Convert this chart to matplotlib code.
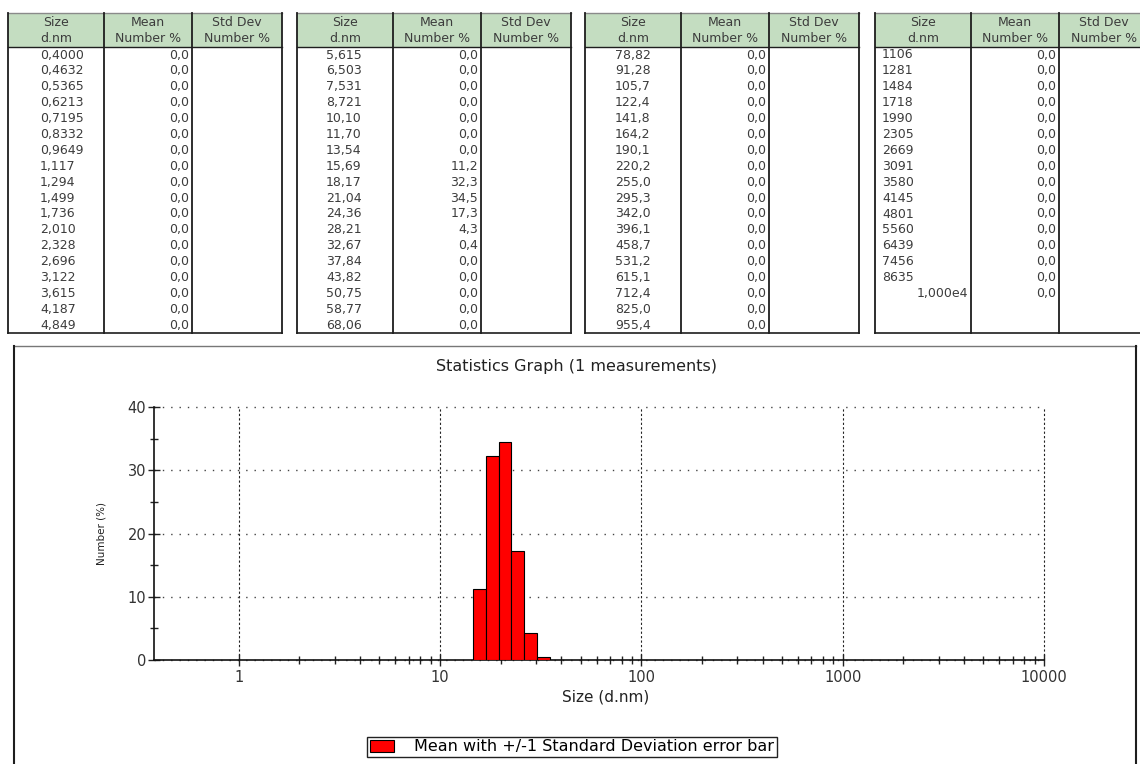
import numpy as np
import matplotlib
matplotlib.use("Agg")
import matplotlib.pyplot as plt
from matplotlib.patches import Rectangle
from matplotlib.ticker import FixedLocator, NullFormatter

W, H = 1140, 764

# size classes (d.nm) and mean number %, one pair per table block
size_1 = [0.4000, 0.4632, 0.5365, 0.6213, 0.7195, 0.8332, 0.9649, 1.117,
          1.294, 1.499, 1.736, 2.010, 2.328, 2.696, 3.122, 3.615, 4.187,
          4.849]
mean_1 = [0.0, 0.0, 0.0, 0.0, 0.0, 0.0, 0.0, 0.0, 0.0, 0.0, 0.0, 0.0,
          0.0, 0.0, 0.0, 0.0, 0.0, 0.0]
size_2 = [5.615, 6.503, 7.531, 8.721, 10.10, 11.70, 13.54, 15.69, 18.17,
          21.04, 24.36, 28.21, 32.67, 37.84, 43.82, 50.75, 58.77, 68.06]
mean_2 = [0.0, 0.0, 0.0, 0.0, 0.0, 0.0, 0.0, 11.2, 32.3, 34.5, 17.3, 4.3,
          0.4, 0.0, 0.0, 0.0, 0.0, 0.0]
size_3 = [78.82, 91.28, 105.7, 122.4, 141.8, 164.2, 190.1, 220.2, 255.0,
          295.3, 342.0, 396.1, 458.7, 531.2, 615.1, 712.4, 825.0, 955.4]
mean_3 = [0.0, 0.0, 0.0, 0.0, 0.0, 0.0, 0.0, 0.0, 0.0, 0.0, 0.0, 0.0,
          0.0, 0.0, 0.0, 0.0, 0.0, 0.0]
size_4 = [1106, 1281, 1484, 1718, 1990, 2305, 2669, 3091, 3580, 4145,
          4801, 5560, 6439, 7456, 8635, 10000]
mean_4 = [0.0, 0.0, 0.0, 0.0, 0.0, 0.0, 0.0, 0.0, 0.0, 0.0, 0.0, 0.0,
          0.0, 0.0, 0.0, 0.0]

head_top = ["Size", "Mean", "Std Dev"]
head_bot = ["d.nm", "Number %", "Number %"]
title = "Statistics Graph (1 measurements)"
x_ticks = [1, 10, 100, 1000, 10000]
y_ticks = [0, 10, 20, 30, 40]
legend_label = "Mean with +/-1 Standard Deviation error bar"


def fmt_size(v):
    s = f"{v:#.4g}"
    if "e" in s:
        m, e = s.split("e")
        s = f"{m}e{int(e)}"
    return s.rstrip(".").replace(".", ",")


def fmt_mean(v):
    return f"{v:.1f}".replace(".", ",")


fig = plt.figure(figsize=(W / 100, H / 100), dpi=100)

# ---- tables + chart frame, drawn in pixel coords ----------------
ax0 = fig.add_axes([0, 0, 1, 1], zorder=0)
ax0.set_xlim(0, W)
ax0.set_ylim(H, 0)
ax0.axis("off")

blocks = [(size_1, mean_1), (size_2, mean_2), (size_3, mean_3),
          (size_4, mean_4)]
tab_x = [8, 297, 585, 875]
size_pad = [32, 29, 30, 7]
col_w = [96, 88, 90]
t_top, h_bot, row0, row_h, n_rows = 13, 47, 55, 15.9, 18
t_bot = h_bot + n_rows * row_h
dark = "#1e1e1e"
txt = "#3c3c3c"

for (sz, mn), x0, sp in zip(blocks, tab_x, size_pad):
    xs = np.concatenate([[x0], x0 + np.cumsum(col_w)])
    ax0.add_patch(Rectangle((x0, t_top), xs[-1] - x0, h_bot - t_top,
                            facecolor="#c4ddc1", edgecolor="none"))
    ax0.plot([x0, xs[-1]], [t_top, t_top], color="#8a8a8a", lw=1)
    ax0.plot([x0, xs[-1]], [h_bot, h_bot], color=dark, lw=1)
    ax0.plot([x0, xs[-1]], [t_bot, t_bot], color=dark, lw=1.2)
    for xv in xs:
        ax0.plot([xv, xv], [t_top, t_bot], color=dark, lw=1.3)
    for k in range(3):
        cx = (xs[k] + xs[k + 1]) / 2
        ax0.text(cx, 23, head_top[k], ha="center", va="center",
                 fontsize=9, color=txt)
        ax0.text(cx, 39, head_bot[k], ha="center", va="center",
                 fontsize=9, color=txt)
    for i, (s, m) in enumerate(zip(sz, mn)):
        y = row0 + i * row_h
        lab = fmt_size(s)
        if "e" in lab:
            ax0.text(xs[1] - 3, y, lab, ha="right", va="center",
                     fontsize=9, color=txt)
        else:
            ax0.text(x0 + sp, y, lab, ha="left", va="center",
                     fontsize=9, color=txt)
        ax0.text(xs[2] - 3, y, fmt_mean(m), ha="right", va="center",
                 fontsize=9, color=txt)

# chart frame (bottom edge runs off the picture)
ax0.plot([14, 1136], [346, 346], color="#777777", lw=1)
ax0.plot([14, 14], [346, H], color=dark, lw=1.5)
ax0.plot([1136, 1136], [346, H], color=dark, lw=1.5)
ax0.text(577, 367, title, ha="center", va="center", fontsize=11.5,
         color="#222222")

# ---- statistics graph -------------------------------------------
ax = fig.add_axes([154 / W, 1 - 660 / H, 890 / W, 253 / H], zorder=1)
ax.patch.set_alpha(0)

sizes = np.array(size_1 + size_2 + size_3 + size_4, float)
means = np.array(mean_1 + mean_2 + mean_3 + mean_4, float)
lg = np.log10(sizes)
mid = (lg[1:] + lg[:-1]) / 2
edges = np.concatenate([[2 * lg[0] - mid[0]], mid,
                        [2 * lg[-1] - mid[-1]]])
left, right = 10 ** edges[:-1], 10 ** edges[1:]
keep = means > 0
ax.bar(left[keep], means[keep], width=right[keep] - left[keep],
       align="edge", color="#ff0000", edgecolor="black", linewidth=0.8,
       label=legend_label, zorder=3)

ax.set_xscale("log")
ax.set_xlim(0.38, 10000)
ax.set_ylim(0, 40)
ax.xaxis.set_major_locator(FixedLocator(x_ticks))
ax.set_xticklabels([str(v) for v in x_ticks])
ax.xaxis.set_minor_locator(FixedLocator(
    [m * 10 ** k for k in range(4) for m in range(2, 10)]))
ax.xaxis.set_minor_formatter(NullFormatter())
ax.yaxis.set_major_locator(FixedLocator(y_ticks))
ax.yaxis.set_minor_locator(FixedLocator([5, 15, 25, 35]))
ax.tick_params(which="both", direction="inout", color="#222222",
               width=1, labelsize=10.5, labelcolor="#333333")
ax.tick_params(which="major", length=8)
ax.tick_params(which="minor", length=6)
ax.tick_params(axis="y", pad=1.5)

ax.set_axisbelow(True)
ax.grid(axis="y", which="major", linestyle=(0, (1, 5)), color="#444444",
        lw=1)
ax.grid(axis="x", which="major", linestyle=(0, (2, 2)), color="#222222",
        lw=0.8)
for gl in ax.get_xgridlines() + ax.get_ygridlines():
    gl.set_clip_on(False)
for sd in ("top", "right"):
    ax.spines[sd].set_visible(False)
for sd in ("left", "bottom"):
    ax.spines[sd].set_color("#111111")
    ax.spines[sd].set_linewidth(1.2)

ax.set_xlabel("Size (d.nm)", fontsize=11, color="#222222")
ax.xaxis.set_label_coords(0.507, -0.115)
ax.set_ylabel("Number (%)", fontsize=7.5, color="#222222")
ax.yaxis.set_label_coords(-0.053, 0.5)

ax.legend(loc="center", bbox_to_anchor=(572 / W, 1 - 747 / H),
          bbox_transform=fig.transFigure, fontsize=11.5, frameon=True,
          fancybox=False, edgecolor="#222222", framealpha=1,
          borderpad=0.15, handlelength=1.5, handleheight=0.75,
          handletextpad=1.3, borderaxespad=0)

fig.savefig("out.png", dpi=100)
